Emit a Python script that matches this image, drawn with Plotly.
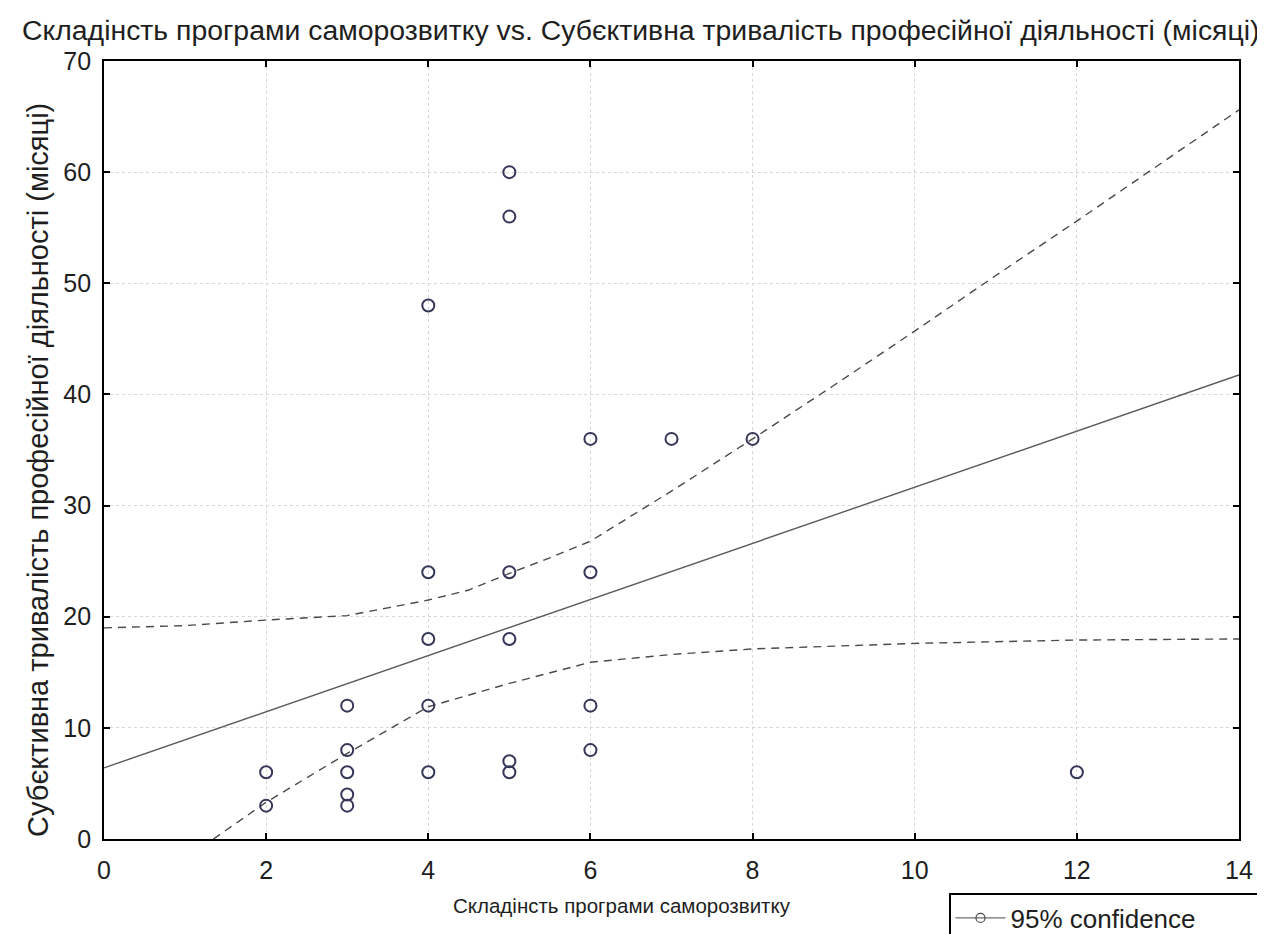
import plotly.graph_objects as go

# Scatter data
x_vals = [2, 2, 3, 3, 3, 3, 3, 4, 4, 4, 4, 4, 5, 5, 5, 5, 5, 5, 6, 6, 6, 6, 7, 8, 12]
y_vals = [6, 3, 12, 8, 6, 4, 3, 48, 24, 18, 12, 6, 60, 56, 24, 18, 7, 6, 36, 24, 12, 8, 36, 36, 6]

# Regression line
fit_x = [0, 14]
fit_y = [6.4, 41.75]

# 95% confidence band
upper_x = [0, 1, 2, 3, 3.5, 4, 4.5, 5, 5.5, 6, 7, 8, 9, 10, 11, 12, 13, 14]
upper_y = [19.0, 19.2, 19.7, 20.1, 20.8, 21.5, 22.4, 23.9, 25.3, 26.8, 31.3, 36.0, 40.8, 45.7, 50.7, 55.6, 60.6, 65.6]
lower_x = [1.35, 2, 3, 4, 5, 6, 7, 8, 10, 12, 14]
lower_y = [0, 3.3, 7.7, 11.9, 14.0, 15.9, 16.6, 17.1, 17.6, 17.9, 18.0]

x_ticks = [0, 2, 4, 6, 8, 10, 12, 14]
y_ticks = [0, 10, 20, 30, 40, 50, 60, 70]

title_text = "Складінсть програми саморозвитку vs. Субєктивна тривалість професійної діяльності (місяці)"
x_title = "Складінсть програми саморозвитку"
y_title = "Субєктивна тривалість професійної діяльності (місяці)"

FONT = "Liberation Sans, Arial, sans-serif"
TXT = "#1e1e1e"
line_col = "#4a4a4a"
mark_col = "#36365a"

fig = go.Figure()
fig.add_trace(go.Scatter(x=upper_x, y=upper_y, mode="lines", showlegend=False,
                         line=dict(color=line_col, width=1.4, dash="8px,6px"), hoverinfo="skip"))
fig.add_trace(go.Scatter(x=lower_x, y=lower_y, mode="lines", showlegend=False,
                         line=dict(color=line_col, width=1.4, dash="8px,6px"), hoverinfo="skip"))
fig.add_trace(go.Scatter(x=fit_x, y=fit_y, mode="lines", showlegend=False,
                         line=dict(color="#5a5a5a", width=1.4)))
fig.add_trace(go.Scatter(x=x_vals, y=y_vals, mode="markers", showlegend=False,
                         marker=dict(symbol="circle-open", size=12, color=mark_col,
                                     line=dict(width=2, color=mark_col))))
# legend entry
fig.add_trace(go.Scatter(x=[None], y=[None], mode="lines+markers", name="95% confidence",
                         line=dict(color=line_col, width=1),
                         marker=dict(symbol="circle-open", size=9, color=line_col,
                                     line=dict(width=1.2, color=line_col))))

# page has an 8px body margin: work in figure coordinates = reference px - 8
W, H = 1257, 926
L, T = 96, 53
R = W - 1231
B = H - 831
pw = W - L - R
ph = H - T - B

fig.update_layout(
    width=W, height=H,
    margin=dict(l=L, r=R, t=T, b=B, autoexpand=False),
    paper_bgcolor="white", plot_bgcolor="white",
    font=dict(family=FONT, size=23, color=TXT),
    title=dict(text=title_text, x=14 / W, xanchor="left", xref="container",
               y=1 - 22 / H, yanchor="middle", yref="container",
               font=dict(family=FONT, size=28.4, color=TXT)),
    showlegend=True,
    legend=dict(x=(941 - L) / pw, y=(831 - 885) / ph, xanchor="left", yanchor="top",
                orientation="h",
                bordercolor="black", borderwidth=1.5, bgcolor="white",
                font=dict(family=FONT, size=26, color=TXT),
                entrywidth=290, entrywidthmode="pixels", itemwidth=50),
    xaxis=dict(range=[0, 14], tickvals=x_ticks, ticktext=[str(v) for v in x_ticks],
               showline=True, linecolor="black", linewidth=1.8, mirror="ticks",
               ticks="inside", ticklen=6, tickcolor="black", tickwidth=1.5,
               showgrid=True, gridcolor="#d8d8d8", griddash="dot", gridwidth=1,
               zeroline=False, ticklabelstandoff=8,
               tickfont=dict(family=FONT, size=25, color=TXT)),
    yaxis=dict(range=[0, 70], tickvals=y_ticks, ticktext=[str(v) for v in y_ticks],
               showline=True, linecolor="black", linewidth=1.8, mirror="ticks",
               ticks="inside", ticklen=6, tickcolor="black", tickwidth=1.5,
               showgrid=True, gridcolor="#d8d8d8", griddash="dot", gridwidth=1,
               zeroline=False, ticklabelstandoff=6,
               tickfont=dict(family=FONT, size=25, color=TXT)),
    annotations=[
        dict(text=x_title, xref="paper", yref="paper", x=(614 - L) / pw, y=(831 - 897) / ph,
             xanchor="center", yanchor="middle", showarrow=False,
             font=dict(family=FONT, size=20.5, color=TXT)),
        dict(text=y_title, xref="paper", yref="paper", x=(30 - L) / pw, y=(831 - 462) / ph,
             xanchor="center", yanchor="middle", showarrow=False, textangle=-90,
             font=dict(family=FONT, size=29, color=TXT)),
    ],
)

fig.write_html("out.html")
